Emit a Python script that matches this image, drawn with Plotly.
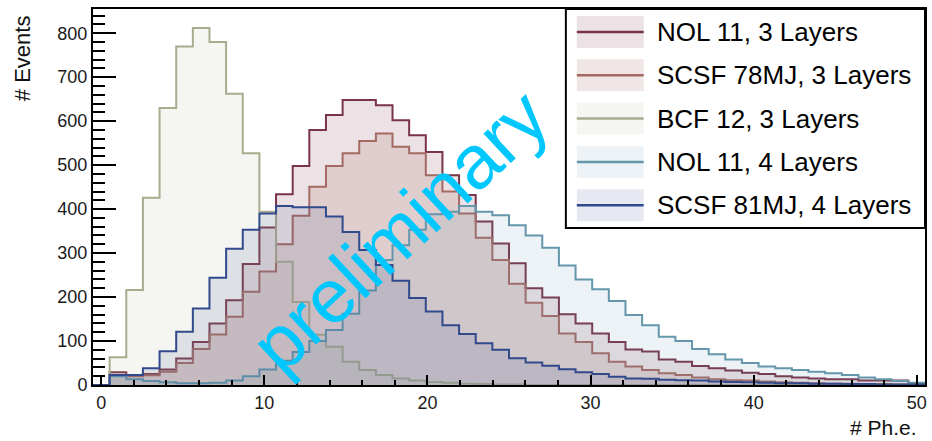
import numpy as np
import plotly.graph_objects as go

# 50 bins of equal width spanning -0.5 .. 50.5 photo-electrons
bin_edges = np.linspace(-0.5, 50.5, 51)

labels = ["NOL 11, 3 Layers", "SCSF 78MJ, 3 Layers", "BCF 12, 3 Layers",
          "NOL 11, 4 Layers", "SCSF 81MJ, 4 Layers"]

nol11_3l = [0, 29, 22, 25, 35, 60, 98, 140, 193, 275,
            358, 434, 498, 580, 614, 648, 648, 636, 602, 568,
            530, 477, 432, 372, 322, 277, 220, 199, 161, 140,
            117, 98, 81, 76, 58, 53, 43, 38, 33, 28,
            25, 20, 17, 15, 13, 13, 10, 10, 10, 4]

scsf78_3l = [0, 22, 20, 22, 30, 50, 82, 115, 155, 212,
             258, 320, 385, 451, 498, 527, 555, 572, 542, 527,
             477, 440, 390, 335, 284, 230, 187, 157, 117, 98,
             72, 53, 42, 34, 27, 23, 17, 13, 11, 10,
             8, 6, 5, 4, 3, 3, 2, 2, 1, 1]

bcf12_3l = [0, 63, 216, 426, 630, 770, 812, 780, 662, 527,
            394, 280, 189, 114, 87, 53, 34, 23, 15, 10,
            7, 5, 3, 2, 1, 1, 0, 0, 0, 0,
            0, 0, 0, 0, 0, 0, 0, 0, 0, 0,
            0, 0, 0, 0, 0, 0, 0, 0, 0, 0]

nol11_4l = [0, 20, 13, 9, 6, 4, 4, 5, 10, 20,
            35, 55, 75, 100, 125, 162, 215, 284, 318, 353,
            388, 394, 407, 394, 386, 363, 340, 312, 272, 240,
            218, 191, 159, 136, 110, 100, 82, 70, 58, 50,
            42, 38, 34, 30, 27, 23, 17, 13, 9, 5]

scsf81_4l = [0, 23, 23, 38, 77, 121, 174, 244, 310, 353,
             390, 407, 404, 404, 383, 348, 307, 273, 237, 198,
             167, 136, 116, 95, 80, 61, 51, 44, 36, 29,
             25, 19, 15, 14, 12, 11, 10, 8, 7, 6,
             5, 4, 4, 3, 3, 2, 2, 1, 1, 1]

series = [nol11_3l, scsf78_3l, bcf12_3l, nol11_4l, scsf81_4l]

line_colors = ["rgb(122,52,72)", "rgb(165,105,100)", "rgb(170,170,142)",
               "rgb(100,150,172)", "rgb(48,74,140)"]
fill_colors = ["rgba(122,52,72,0.14)", "rgba(165,105,100,0.17)",
               "rgba(170,170,140,0.12)", "rgba(100,150,175,0.12)",
               "rgba(50,75,140,0.12)"]

FONT = "Liberation Sans, Arial, Helvetica, sans-serif"

fig = go.Figure()
for vals, name, lc, fc in zip(series, labels, line_colors, fill_colors):
    v = np.asarray(vals, dtype=float)
    xs = np.concatenate([[bin_edges[0]], bin_edges[:-1], [bin_edges[-1], bin_edges[-1]]])
    ys = np.concatenate([[0.0], v, [v[-1], 0.0]])
    fig.add_trace(go.Scatter(
        x=xs, y=ys, mode="lines", name=name,
        line=dict(color=lc, width=2, shape="hv"),
        fill="tozeroy", fillcolor=fc, showlegend=False, hoverinfo="skip",
    ))

# plot-area geometry in pixels, used to place the hand-built legend
W, H = 932, 441
ML, MR, MT, MB = 93, 5, 9, 56
PW, PH = W - ML - MR, H - MT - MB


def px_x(p):
    return (p - ML) / PW


def px_y(p):
    return (H - MB - p) / PH


shapes = []
annotations = []

# legend box
shapes.append(dict(type="rect", xref="paper", yref="paper",
                   x0=px_x(567), x1=1.0, y0=px_y(228), y1=1.0,
                   fillcolor="white", line=dict(color="black", width=2),
                   layer="above"))
for i, (name, lc, fc) in enumerate(zip(labels, line_colors, fill_colors)):
    cy = 32 + 43.3 * i
    shapes.append(dict(type="rect", xref="paper", yref="paper",
                       x0=px_x(578), x1=px_x(645),
                       y0=px_y(cy + 16), y1=px_y(cy - 16),
                       fillcolor=fc, line=dict(width=0), layer="above"))
    shapes.append(dict(type="line", xref="paper", yref="paper",
                       x0=px_x(578), x1=px_x(645), y0=px_y(cy), y1=px_y(cy),
                       line=dict(color=lc, width=2.5), layer="above"))
    annotations.append(dict(text=name, xref="paper", yref="paper",
                            x=px_x(656), y=px_y(cy), xanchor="left",
                            yanchor="middle", showarrow=False,
                            font=dict(family=FONT, size=26, color="black")))

# axis titles
annotations.append(dict(text="# Events", xref="paper", yref="paper",
                        x=px_x(22), y=px_y(58), textangle=-90,
                        xanchor="center", yanchor="middle", showarrow=False,
                        font=dict(family=FONT, size=22, color="#111")))
annotations.append(dict(text="# Ph.e.", xref="paper", yref="paper",
                        x=px_x(885), y=px_y(427),
                        xanchor="center", yanchor="middle", showarrow=False,
                        font=dict(family=FONT, size=21, color="#111")))

# watermark
annotations.append(dict(text="preliminary", xref="paper", yref="paper",
                        x=px_x(400), y=px_y(230), textangle=-43,
                        xanchor="center", yanchor="middle", showarrow=False,
                        font=dict(family=FONT, size=76, color="rgb(0,200,255)")))

fig.update_layout(
    width=W, height=H,
    margin=dict(l=ML, r=MR, t=MT, b=MB),
    paper_bgcolor="white", plot_bgcolor="white",
    font=dict(family=FONT, size=18, color="#1a1a1a"),
    shapes=shapes, annotations=annotations,
    showlegend=False,
)
fig.update_xaxes(
    range=[-0.5, 50.5], showgrid=False, zeroline=False,
    showline=True, mirror=True, linecolor="black", linewidth=2,
    ticks="inside", tick0=0, dtick=10, ticklen=10, tickwidth=2, tickcolor="black",
    minor=dict(ticks="inside", tick0=0, dtick=2, ticklen=5, tickwidth=1.5, tickcolor="black"),
    tickfont=dict(family=FONT, size=18, color="#1a1a1a"),
)
fig.update_yaxes(
    range=[0, 855], showgrid=False, zeroline=False,
    showline=True, mirror=True, linecolor="black", linewidth=2,
    ticks="inside", tick0=0, dtick=100, ticklen=23, tickwidth=2, tickcolor="black",
    minor=dict(ticks="inside", tick0=0, dtick=20, ticklen=12, tickwidth=1.5, tickcolor="black"),
    tickfont=dict(family=FONT, size=18, color="#1a1a1a"),
)

fig.write_html("out.html")
